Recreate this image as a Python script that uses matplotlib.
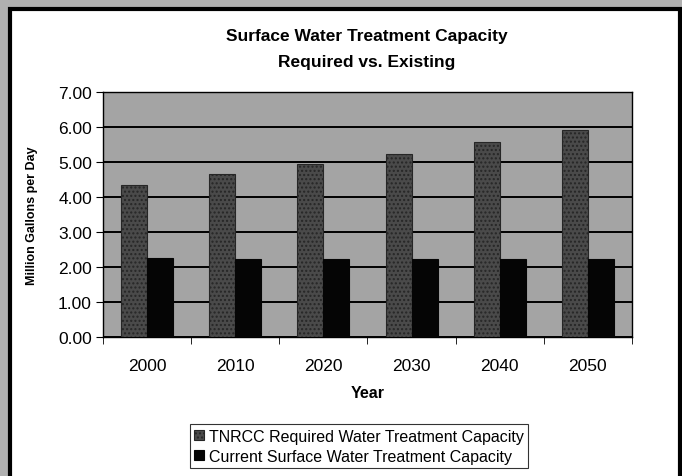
import numpy as np
import matplotlib
matplotlib.use("Agg")
import matplotlib.pyplot as plt
from matplotlib.patches import Rectangle
from matplotlib.ticker import FormatStrFormatter

plt.rcParams['font.family'] = ['Liberation Sans', 'DejaVu Sans']

years = ['2000', '2010', '2020', '2030', '2040', '2050']
required = [4.34, 4.66, 4.94, 5.23, 5.57, 5.91]
current = [2.25, 2.24, 2.23, 2.23, 2.22, 2.22]
series_names = ['TNRCC Required Water Treatment Capacity',
                'Current Surface Water Treatment Capacity']

W, H = 682, 477
fig = plt.figure(figsize=(W / 100, H / 100), dpi=100)
fig.patch.set_facecolor('#b0b0b0')

# white panel with heavy black frame (bottom edge runs off the picture)
fig.add_artist(Rectangle((10 / W, -20 / H), (W - 12) / W, (H + 10) / H,
                         transform=fig.transFigure, facecolor='white',
                         edgecolor='black', linewidth=3, zorder=0))

ax_l, ax_r, ax_t, ax_b = 103, 632, 93, 338
ax = fig.add_axes([ax_l / W, 1 - ax_b / H, (ax_r - ax_l) / W, (ax_b - ax_t) / H])
ax.set_facecolor('#a4a4a4')

x = np.arange(len(years))
w = 0.295
ax.bar(x - w / 2, required, w, color='#4a4a4a', edgecolor='#262626',
       hatch='....', linewidth=0.8, label=series_names[0], zorder=3)
ax.bar(x + w / 2, current, w, color='#050505', edgecolor='#050505',
       linewidth=0.8, label=series_names[1], zorder=3)

ax.set_xlim(-0.5, len(years) - 0.5)
ax.set_ylim(0, 7)
ax.set_yticks(np.arange(0, 8, 1))
ax.yaxis.set_major_formatter(FormatStrFormatter('%.2f'))
ax.yaxis.grid(True, color='black', linewidth=1.4, zorder=1)
ax.set_axisbelow(True)

ax.set_xticks(x)
ax.set_xticklabels(years)
ax.set_xticks(np.arange(-0.5, len(years), 1), minor=True)
ax.tick_params(axis='x', which='major', length=0, pad=15, labelsize=12.5)
ax.tick_params(axis='x', which='minor', length=5, direction='out')
ax.tick_params(axis='y', length=5, direction='out', labelsize=12.5, pad=3)

for s in ax.spines.values():
    s.set_color('black')
    s.set_linewidth(1)

ax.set_ylabel('Million Gallons per Day', fontsize=9, fontweight='bold')
ax.yaxis.set_label_coords((38 - ax_l) / (ax_r - ax_l), 0.5)
ax.set_xlabel('Year', fontsize=11.5, fontweight='bold')
ax.xaxis.set_label_coords(0.5, -(393 - ax_b) / (ax_b - ax_t))
ax.xaxis.label.set_va('center')

fig.text(367 / W, 1 - 36 / H, 'Surface Water Treatment Capacity',
         ha='center', va='center', fontsize=12.5, fontweight='bold')
fig.text(367 / W, 1 - 62 / H, 'Required vs. Existing',
         ha='center', va='center', fontsize=12.5, fontweight='bold')

leg = fig.legend(loc='upper center', bbox_to_anchor=(359 / W, 1 - 425 / H),
                 ncol=1, fontsize=11.5, frameon=True, fancybox=False,
                 handlelength=0.6, handleheight=0.6, handletextpad=0.3,
                 borderpad=0.3, labelspacing=0.3, borderaxespad=0)
leg.get_frame().set_edgecolor('black')
leg.get_frame().set_linewidth(0.8)

fig.savefig('out.png', dpi=100, facecolor=fig.get_facecolor())
